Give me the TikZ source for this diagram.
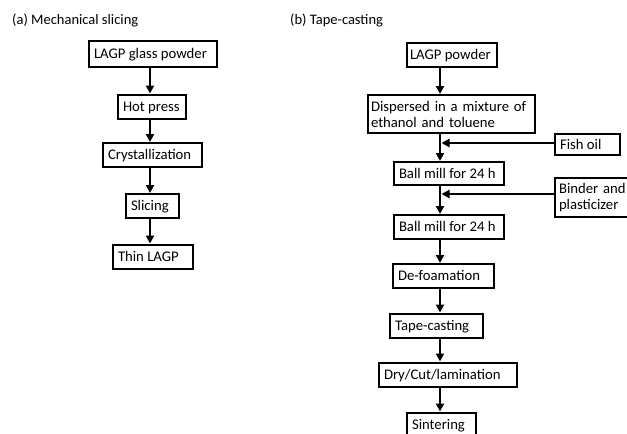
\documentclass[tikz,border=0pt]{standalone}
\usepackage{fontspec}
\setmainfont{Carlito}
\usetikzlibrary{arrows.meta}
\newcommand{\lftbox}[2]{\makebox[#1][l]{#2}}
\begin{document}
\begin{tikzpicture}[x=1pt,y=-1pt,
  box/.style={draw, line width=2pt, anchor=west, inner xsep=5pt, inner ysep=0pt, minimum height=24pt, text height=9.2pt, text depth=0pt, font=\fontsize{14.7}{16}\selectfont},
  twoline/.style={align=left, text height=, text depth=},
  flow/.style={line width=2pt, -{Triangle[width=8pt,length=8pt]}},
  ttl/.style={anchor=west, inner sep=0pt, font=\fontsize{14.5}{16}\selectfont}]
\clip (0,0) rectangle (627,434);
\fill[white] (0,0) rectangle (627,434);
\node[ttl] (ta) at (12,20) {(a) Mechanical slicing};
\node[ttl] (tb) at (290,20) {(b) Tape-casting};
\coordinate (colL) at (150,0);
\coordinate (colR) at (440,0);
% left column
\node[box, minimum height=26pt] (lgp) at (88,54) {\lftbox{118pt}{LAGP glass powder}};
\node[box] (hp) at (117,106.5) {\lftbox{58pt}{Hot press}};
\node[box] (cr) at (102,155) {\lftbox{89pt}{Crystallization}};
\node[box] (sl) at (125,206) {\lftbox{43pt}{Slicing}};
\node[box] (th) at (112,256.5) {\lftbox{70pt}{Thin LAGP}};
\draw[flow] (lgp.south -| colL) -- (hp.north -| colL);
\draw[flow] (hp.south -| colL) -- (cr.north -| colL);
\draw[flow] (cr.south -| colL) -- (sl.north -| colL);
\draw[flow] (sl.south -| colL) -- (th.north -| colL);
% right column
\node[box, inner xsep=3pt] (lp) at (406,55) {\lftbox{84pt}{LAGP powder}};
\node[box, twoline, inner xsep=3pt, text width=161pt, minimum height=38pt] (dis) at (367,114) {\mbox{Dispersed in a mixture of}\\\mbox{ethanol and toluene}};
\node[box, minimum height=21pt] (fo) at (554,144.5) {\lftbox{55pt}{Fish oil}};
\node[box, minimum height=23pt] (bm1) at (393,173.5) {\lftbox{100pt}{Ball mill for 24 h}};
\node[box, twoline, inner xsep=4pt, text width=66pt, minimum height=39pt] (bp) at (554,197.5) {\mbox{Binder and}\\\mbox{plasticizer}};
\node[box] (bm2) at (393,227) {\lftbox{100pt}{Ball mill for 24 h}};
\node[box] (df) at (392,276) {\lftbox{91pt}{De-foamation}};
\node[box] (tc) at (389,325.5) {\lftbox{83pt}{Tape-casting}};
\node[box] (dcl) at (378,374.5) {\lftbox{128pt}{Dry/Cut/lamination}};
\node[box] (sin) at (406,424.5) {\lftbox{59pt}{Sintering}};
\draw[flow] (lp.south -| colR) -- (dis.north -| colR);
\draw[flow] (dis.south -| colR) -- (bm1.north -| colR);
\draw[flow] (bm1.south -| colR) -- (bm2.north -| colR);
\draw[flow] (bm2.south -| colR) -- (df.north -| colR);
\draw[flow] (df.south -| colR) -- (tc.north -| colR);
\draw[flow] (tc.south -| colR) -- (dcl.north -| colR);
\draw[flow] (dcl.south -| colR) -- (sin.north -| colR);
\draw[flow, shorten >=1.5pt] ([yshift=1.5pt]fo.west) -- ([yshift=1.5pt]fo.west -| colR);
\draw[flow, shorten >=1.5pt] ([yshift=3.5pt]bp.west) -- ([yshift=3.5pt]bp.west -| colR);
\end{tikzpicture}
\end{document}
